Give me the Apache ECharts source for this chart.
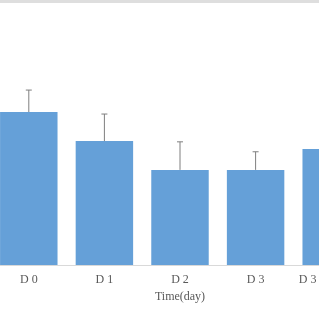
<!DOCTYPE html>
<html><head><meta charset="utf-8">
<script src="https://cdn.jsdelivr.net/npm/echarts@6/dist/echarts.min.js"></script>
<style>html,body{margin:0;padding:0;background:#fff;overflow:hidden;width:319px;height:319px;position:relative}
#c{position:absolute;left:-9px;top:0;width:378px;height:319px}
#bar{position:absolute;left:0;top:0;width:319px;height:3px;background:#dedede}</style>
</head><body><div id="c"></div><div id="bar"></div>
<script>
var categories = ['D 0', 'D 1', 'D 2', 'D 3', 'D 3 + 1 week'];
var means = [60, 48.6, 37.3, 37.3, 45.5];
var errors = [8.6, 10.6, 11, 7.1, 8];

var chart = echarts.init(document.getElementById('c'));
var errData = categories.map(function (c, i) { return [i, means[i], means[i] + errors[i]]; });
chart.setOption({
  animation: false,
  grid: { left: 0, right: 0, top: 10, bottom: 54 },
  xAxis: {
    type: 'category', data: categories,
    axisLine: { lineStyle: { color: '#d9d9d9' } },
    axisTick: { show: false },
    axisLabel: { color: '#595959', fontFamily: 'Liberation Serif', fontSize: 12, margin: 9, interval: 0 },
    name: 'Time(day)', nameLocation: 'middle', nameGap: 25,
    nameTextStyle: { color: '#595959', fontFamily: 'Liberation Serif', fontSize: 12 }
  },
  yAxis: { type: 'value', min: 0, max: 100, show: false, splitLine: { show: false } },
  series: [
    { type: 'bar', data: means, barCategoryGap: '24%', itemStyle: { color: '#65a0d8' } },
    {
      type: 'custom', data: errData, z: 5,
      renderItem: function (params, api) {
        var x = api.value(0);
        var lo = api.coord([x, api.value(1)]);
        var hi = api.coord([x, api.value(2)]);
        var st = { stroke: '#7f7f7f', lineWidth: 1 };
        return { type: 'group', children: [
          { type: 'line', shape: { x1: lo[0], y1: lo[1], x2: hi[0], y2: hi[1] }, style: st },
          { type: 'line', shape: { x1: hi[0] - 3, y1: hi[1], x2: hi[0] + 3, y2: hi[1] }, style: st }
        ] };
      }
    }
  ]
});
</script></body></html>
